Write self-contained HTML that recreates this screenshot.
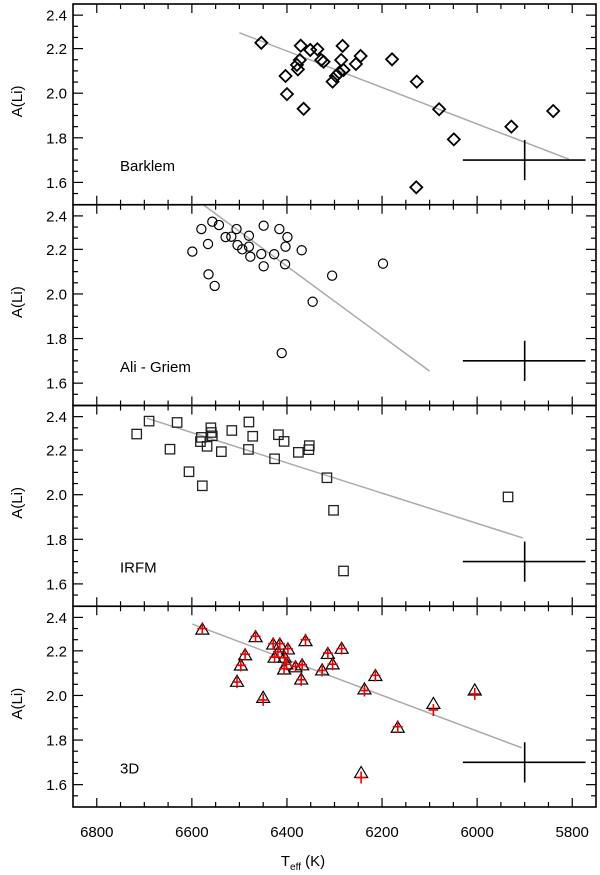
<!DOCTYPE html>
<html><head><meta charset="utf-8"><style>
html,body{margin:0;padding:0;background:#fff;}
svg{display:block;font-family:"Liberation Sans",Arial,sans-serif;}
</style></head><body>
<svg id="chart" width="600" height="875" viewBox="0 0 600 875"></svg>
<script>
// ---- data ----
const barklemT = [6454,6371,6351,6336,6283,6245,6328,6323,6286,6373,6379,6377,6255,6179,6403,6290,6297,6304,6281,6400,6365,6127,6080,6049,5928,5840,6128];
const barklemA = [2.226,2.213,2.194,2.197,2.212,2.167,2.149,2.141,2.149,2.149,2.127,2.107,2.131,2.152,2.077,2.092,2.077,2.052,2.104,1.996,1.930,2.052,1.928,1.793,1.85,1.92,1.578];
const aliT = [6599,6580,6557,6543,6566,6529,6517,6506,6504,6494,6480,6480,6477,6454,6449,6449,6427,6416,6399,6403,6404,6369,6565,6552,6305,6346,6198,6411];
const aliA = [2.19,2.291,2.324,2.309,2.224,2.255,2.257,2.291,2.219,2.2,2.261,2.212,2.167,2.179,2.306,2.124,2.178,2.291,2.255,2.212,2.133,2.196,2.088,2.036,2.082,1.965,2.136,1.735];
const irfmT = [6716,6690,6631,6646,6606,6578,6580,6582,6568,6560,6559,6557,6538,6516,6480,6472,6481,6418,6406,6426,6376,6353,6354,6316,6302,6281,5935];
const irfmA = [2.272,2.330,2.324,2.204,2.103,2.04,2.257,2.238,2.217,2.30,2.279,2.264,2.193,2.288,2.326,2.262,2.203,2.269,2.239,2.161,2.19,2.22,2.202,2.076,1.93,1.658,1.99];
const d3T = [6578,6466,6488,6497,6505,6450,6429,6415,6398,6361,6426,6419,6405,6401,6406,6382,6368,6370,6314,6285,6304,6326,6237,6214,6167,6092,6005,6244];
const d3A = [2.293,2.259,2.178,2.132,2.059,1.987,2.226,2.226,2.204,2.241,2.167,2.189,2.167,2.137,2.114,2.124,2.133,2.069,2.184,2.207,2.137,2.11,2.025,2.085,1.853,1.96,2.02,1.65];
const d3PlusA = [2.30,2.265,2.185,2.135,2.06,1.98,2.232,2.232,2.21,2.25,2.172,2.195,2.17,2.14,2.12,2.13,2.138,2.07,2.19,2.21,2.14,2.112,2.022,2.09,1.86,1.935,2.007,1.632];
const fitT1 = [[6500,5807],[6576,6100],[6695,5904],[6599,5906]];
const fitA1 = [[2.271,1.704],[2.40,1.654],[2.343,1.806],[2.32,1.765]];
const panelNames = ["Barklem","Ali - Griem","IRFM","3D"];
const xTickLabels = [6800,6600,6400,6200,6000,5800];
const yTickLabels = ["1.6","1.8","2.0","2.2"];

// ---- geometry ----
const NS="http://www.w3.org/2000/svg";
const svg=document.getElementById('chart');
const X0=73,X1=596,T0=6850,T1=5750;
const tops=[4,204.75,405.5,606.25],PH=200.75;
function xS(t){return X0+(T0-t)/(T0-T1)*(X1-X0);}
function yS(p,v){return tops[p]+(2.4-v)*223;}
function mk(tag,attrs,parent){const e=document.createElementNS(NS,tag);for(const k in attrs)e.setAttribute(k,attrs[k]);(parent||svg).appendChild(e);return e;}

for(let p=0;p<4;p++){
  const g=mk('g',{});
  
  
  const top=tops[p],bot=top+PH;
  // clip
  const cp=mk('clipPath',{id:'c'+p},g);mk('rect',{x:X0,y:top,width:X1-X0,height:PH},cp);
  // fit line
  const fl=mk('line',{x1:xS(fitT1[p][0]),y1:yS(p,fitA1[p][0]),x2:xS(fitT1[p][1]),y2:yS(p,fitA1[p][1]),stroke:'#aaa','stroke-width':1.5,'clip-path':'url(#c'+p+')'},g);
  
  
  // error cross
  const ec=mk('g',{stroke:'#000','stroke-width':1.6},g);
  
  
  mk('line',{x1:xS(6030),y1:yS(p,1.70),x2:xS(5772),y2:yS(p,1.70)},ec);
  mk('line',{x1:xS(5900),y1:yS(p,1.61),x2:xS(5900),y2:yS(p,1.79)},ec);
  // points
  const pts=mk('g',{fill:'none',stroke:'#000'},g);
  
  
  if(p===0){barklemT.forEach((t,i)=>{const x=xS(t),y=yS(0,barklemA[i]);const m=mk('polygon',{points:`${x},${y-6} ${x+6},${y} ${x},${y+6} ${x-6},${y}`,'stroke-width':1.8},pts);});}
  if(p===1){aliT.forEach((t,i)=>{const m=mk('circle',{cx:xS(t),cy:yS(1,aliA[i]),r:4.6,'stroke-width':1.2},pts);});}
  if(p===2){irfmT.forEach((t,i)=>{const m=mk('rect',{x:xS(t)-4.7,y:yS(2,irfmA[i])-4.7,width:9.4,height:9.4,'stroke-width':1.3,stroke:'#222'},pts);});}
  if(p===3){d3T.forEach((t,i)=>{const x=xS(t),y=yS(3,d3A[i]);const m=mk('polygon',{points:`${x},${y-7} ${x+6.5},${y+4} ${x-6.5},${y+4}`,'stroke-width':1.2},pts);});
    d3T.forEach((t,i)=>{const x=xS(t),y=yS(3,d3PlusA[i]);const m=mk('path',{d:`M${x-5},${y}H${x+5}M${x},${y-6}V${y+6}`,stroke:'#e00','stroke-width':1.6},pts);});}
  // frame
  const fr=mk('rect',{x:X0,y:top,width:X1-X0,height:PH,fill:'none',stroke:'#000','stroke-width':1.6},g);
  
  
  // ticks
  const tk=mk('g',{stroke:'#000','stroke-width':1.2},g);
  
  
  for(let t=6800;t>=5800;t-=50){const x=xS(t),L=(t%200===0)?9:5;
    mk('line',{x1:x,y1:top,x2:x,y2:top+L},tk);mk('line',{x1:x,y1:bot,x2:x,y2:bot-L},tk);}
  for(let k=0;k<=17;k++){const v=1.55+k*0.05;const y=yS(p,v);if(y<top+2||y>bot-2)continue;
    const maj=Math.abs(Math.round(v*100)%20)===0||k===16;const L=maj?10:5;
    mk('line',{x1:X0,y1:y,x2:X0+L,y2:y},tk);mk('line',{x1:X1,y1:y,x2:X1-L,y2:y},tk);}
  // y labels
  yTickLabels.forEach(s=>{const t=mk('text',{x:67,y:yS(p,+s)+5.5,'font-size':15,'text-anchor':'end',fill:'#000'},g);t.textContent=s;});
  const t24=mk('text',{x:67,y:yS(p,2.35)+5.5,'font-size':15,'text-anchor':'end',fill:'#000'},g);t24.textContent='2.4';
  
  
  // y title
  const cy=top+PH/2-3;
  const yt=mk('text',{x:0,y:0,'font-size':15,'text-anchor':'middle',transform:`translate(22,${cy}) rotate(-90)`},g);yt.textContent='A(Li)';
  
  
  // panel label
  const pl=mk('text',{x:120,y:top+167,'font-size':15},g);pl.textContent=panelNames[p];
  
  
}
xTickLabels.forEach(v=>{const t=mk('text',{x:xS(v),y:837,'font-size':15,'text-anchor':'middle'});t.textContent=v;
  
  });
const xt=mk('text',{x:303,y:866,'font-size':15,'text-anchor':'middle'});


xt.innerHTML='T<tspan font-size="10" dy="4">eff</tspan><tspan dy="-4"> (K)</tspan>';
</script>
</body></html>
